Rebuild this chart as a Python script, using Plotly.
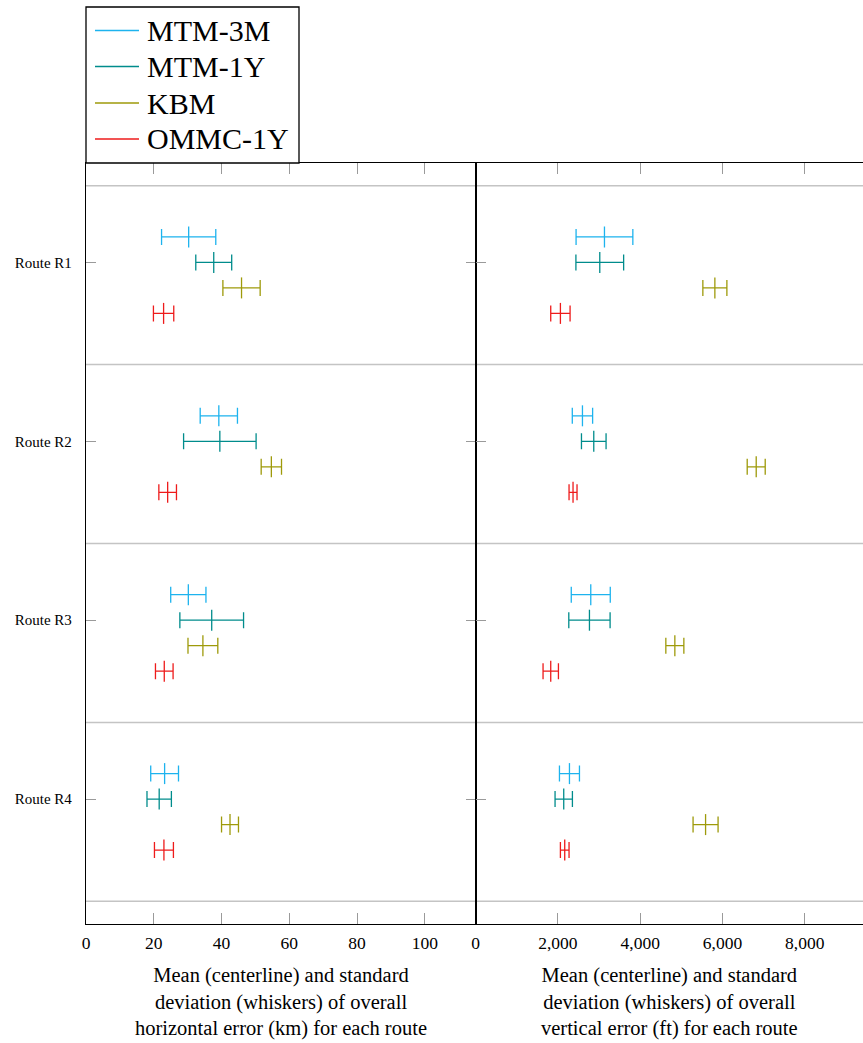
import plotly.graph_objects as go

# ---------------- data ----------------
routes = ["Route R1", "Route R2", "Route R3", "Route R4"]
series = ["MTM-3M", "MTM-1Y", "KBM", "OMMC-1Y"]
colors = ["#1DB3EE", "#008C8C", "#9E9A0A", "#EE1B1B"]

# horizontal error (km): mean and standard deviation, per series, per route
h_mean_mtm3m = [30.3, 39.2, 30.2, 23.2]
h_sd_mtm3m = [8.0, 5.5, 5.2, 4.1]
h_mean_mtm1y = [37.7, 39.5, 37.1, 21.6]
h_sd_mtm1y = [5.3, 10.7, 9.4, 3.6]
h_mean_kbm = [45.9, 54.7, 34.5, 42.5]
h_sd_kbm = [5.5, 3.0, 4.4, 2.5]
h_mean_ommc = [22.9, 24.1, 23.1, 23.0]
h_sd_ommc = [3.0, 2.6, 2.6, 2.8]

# vertical error (ft): mean and standard deviation
v_mean_mtm3m = [3131, 2596, 2798, 2280]
v_sd_mtm3m = [690, 247, 474, 243]
v_mean_mtm1y = [3017, 2871, 2766, 2141]
v_sd_mtm1y = [580, 299, 502, 211]
v_mean_kbm = [5815, 6820, 4842, 5589]
v_sd_kbm = [292, 219, 219, 304]
v_mean_ommc = [2060, 2367, 1825, 2165]
v_sd_ommc = [235, 97, 187, 105]

h_means = [h_mean_mtm3m, h_mean_mtm1y, h_mean_kbm, h_mean_ommc]
h_sds = [h_sd_mtm3m, h_sd_mtm1y, h_sd_kbm, h_sd_ommc]
v_means = [v_mean_mtm3m, v_mean_mtm1y, v_mean_kbm, v_mean_ommc]
v_sds = [v_sd_mtm3m, v_sd_mtm1y, v_sd_kbm, v_sd_ommc]

x_left_ticks = [0, 20, 40, 60, 80, 100]
x_right_ticks = [0, 2000, 4000, 6000, 8000]

title_left = "Mean (centerline) and standard<br>deviation (whiskers) of overall<br>horizontal error (km) for each route"
title_right = "Mean (centerline) and standard<br>deviation (whiskers) of overall<br>vertical error (ft) for each route"

# ---------------- layout helpers ----------------
FONT = "Liberation Serif"
W, H = 863, 1043
ML, MR, MT, MB = 86, 0, 163, 119
PW, PH = W - ML - MR, H - MT - MB
OFF = 0.1425               # spacing between series within a route (in route units)
DSPLIT = 0.5015            # split between the two panels (paper fraction)
YR = [len(routes) - 0.5 + 0.127, -0.5 - 0.127]

def px_x(px):
    return (px - ML) / PW

def px_y(py):
    return (H - MB - py) / PH

ypos_ticks = [i - 0.5 * OFF for i in range(len(routes))]

fig = go.Figure()
for j, (name, col) in enumerate(zip(series, colors)):
    ys = [i + (j - 1.5) * OFF for i in range(len(routes))]
    for xa, ya, means, sds in (("x", "y", h_means[j], h_sds[j]), ("x2", "y2", v_means[j], v_sds[j])):
        fig.add_trace(go.Scatter(
            x=means, y=ys, xaxis=xa, yaxis=ya, name=name, showlegend=False,
            mode="markers",
            marker=dict(symbol="line-ns", size=15, color=col, line=dict(width=1.3, color=col)),
            error_x=dict(type="data", array=sds, visible=True, width=8, thickness=1.3, color=col),
            hoverinfo="skip",
        ))

tickfont = dict(family=FONT, size=17.5, color="black")
common_x = dict(ticks="inside", ticklen=11, tickwidth=1, tickcolor="#9a9a9a",
                showline=True, linecolor="black", linewidth=1.3, mirror="ticks",
                showgrid=False, zeroline=False, tickfont=tickfont, ticklabelstandoff=3)
common_y = dict(range=YR, tickvals=ypos_ticks, ticks="inside", ticklen=10, tickwidth=1,
                tickcolor="#9a9a9a", showgrid=False, zeroline=False, domain=[0, 1])

fig.update_layout(
    width=W, height=H, margin=dict(l=ML, r=MR, t=MT, b=MB),
    paper_bgcolor="white", plot_bgcolor="white", showlegend=False,
    xaxis=dict(domain=[0, DSPLIT], range=[0, 115], tickvals=x_left_ticks, anchor="y", **common_x),
    xaxis2=dict(domain=[DSPLIT, 1], range=[0, 9416], tickvals=x_right_ticks, tickformat=",d",
                anchor="y2", **common_x),
    yaxis=dict(anchor="x", ticktext=routes, showline=True, linecolor="black", linewidth=1.3,
               mirror="ticks", tickfont=dict(family=FONT, size=15, color="black"),
               ticklabelstandoff=10, **common_y),
    yaxis2=dict(anchor="x2", showticklabels=False, showline=True, linecolor="black",
                linewidth=1.3, mirror=False, **common_y),
    yaxis3=dict(anchor="x2", overlaying="y2", side="right", showticklabels=False,
                showline=False, **common_y),
)

# route separator lines
for k in range(len(routes) + 1):
    fig.add_shape(type="line", xref="paper", yref="y", x0=0, x1=1, y0=k - 0.5, y1=k - 0.5,
                  line=dict(color="#c4c4c4", width=1.5), layer="below")

# axis titles
for xc, txt in ((DSPLIT / 2, title_left), ((DSPLIT + 1) / 2, title_right)):
    fig.add_annotation(x=xc, y=px_y(1002), xref="paper", yref="paper", text=txt,
                       showarrow=False, xanchor="center", yanchor="middle", align="center",
                       font=dict(family=FONT, size=20.5, color="black"))

# legend box (drawn manually to mirror the reference)
fig.add_shape(type="rect", xref="paper", yref="paper", x0=px_x(86), x1=px_x(299),
              y0=px_y(163), y1=px_y(7), line=dict(color="black", width=1.3),
              fillcolor="white")
leg_y = [30.5, 66.5, 103, 139]
for name, col, ly in zip(series, colors, leg_y):
    fig.add_shape(type="line", xref="paper", yref="paper", x0=px_x(95), x1=px_x(139),
                  y0=px_y(ly), y1=px_y(ly), line=dict(color=col, width=1.3))
    fig.add_annotation(x=px_x(145), y=px_y(ly), xref="paper", yref="paper", text=name,
                       showarrow=False, xanchor="left", yanchor="middle",
                       font=dict(family=FONT, size=30, color="black"))

fig.write_html("out.html")
